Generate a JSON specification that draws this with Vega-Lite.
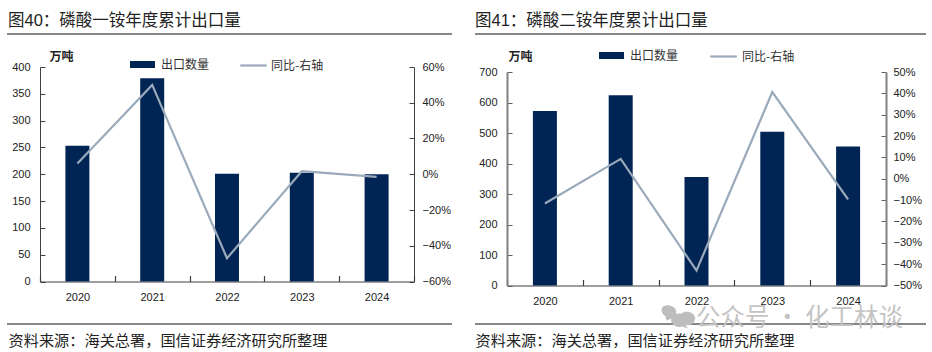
{
"$schema":"https://vega.github.io/schema/vega-lite/v6.json",
"background":"white",
"autosize":"pad",
"padding":{"left":6,"top":12,"right":0,"bottom":0},
"spacing":21,
"config":{"view":{"stroke":null},"font":"Liberation Sans, Noto Sans CJK SC","axis":{"grid":false,"ticks":true,"labelFont":"Liberation Sans, Noto Sans CJK SC","labelFontSize":11,"labelColor":"#222222","titleFont":"Noto Sans CJK SC"},"legend":{"labelFont":"Noto Sans CJK SC","labelFontSize":12,"labelColor":"#333333"}},
"hconcat":[
{"title":{"text":"图40：磷酸一铵年度累计出口量","anchor":"start","frame":"group","dx":-32,"offset":4,"font":"Liberation Sans, Noto Sans CJK SC","fontSize":16.5,"fontWeight":"normal","color":"#222222"},
"width":374,"height":214.5,
"data":{"values":[{"year":"2020","qty":253,"yoy":0.06},{"year":"2021","qty":379,"yoy":0.50},{"year":"2022","qty":201,"yoy":-0.47},{"year":"2023","qty":203,"yoy":0.017},{"year":"2024","qty":200,"yoy":-0.015}]},
"layer":[
{"mark":{"type":"bar","color":"#002554","size":24},
"encoding":{"x":{"field":"year","type":"nominal","sort":null,"scale":{"paddingInner":0,"paddingOuter":0},
"axis":{"labelAngle":0,"ticks":true,"tickBand":"extent","tickSize":-6,"tickWidth":1.2,"labelPadding":15.5,"domainColor":"#404040","tickColor":"#404040","title":"资料来源：海关总署，国信证券经济研究所整理","titleFont":"Noto Sans CJK SC","titleFontSize":15.2,"titleFontWeight":"normal","titleColor":"#222222","titleAnchor":"start","titleAlign":"left","titleBaseline":"alphabetic","titleX":-32,"titleY":64}},
"y":{"field":"qty","type":"quantitative","scale":{"domain":[0,400],"nice":false},
"axis":{"values":[0,50,100,150,200,250,300,350,400],"tickSize":-5,"labelPadding":15,"domainColor":"#404040","tickColor":"#404040","title":"万吨","titleAngle":0,"titleFontSize":12,"titleFontWeight":"bold","titleColor":"#222222","titleAlign":"center","titleBaseline":"middle","titleX":21,"titleY":-11}},
"fill":{"datum":"出口数量","scale":{"range":["#002554"]},"legend":{"title":null,"orient":"none","legendX":89,"legendY":-16,"symbolType":"M-1,-0.28H1V0.28H-1Z","symbolSize":625,"labelOffset":5}}}},
{"mark":{"type":"line","strokeWidth":2.2,"interpolate":"linear"},
"encoding":{"x":{"field":"year","type":"nominal","sort":null},
"y":{"field":"yoy","type":"quantitative","scale":{"domain":[-0.6,0.6],"nice":false},
"axis":{"orient":"right","format":".0%","values":[-0.6,-0.4,-0.2,0,0.2,0.4,0.6],"tickSize":-5,"labelPadding":13,"domainColor":"#404040","tickColor":"#404040","title":null}},
"stroke":{"datum":"同比-右轴","scale":{"range":["#9AAABB"]},"legend":{"title":null,"orient":"none","legendX":199,"legendY":-16,"symbolType":"stroke","symbolSize":700,"symbolStrokeWidth":2.2,"labelOffset":3}}}},
{"data":{"values":[{"part":"top"}]},"mark":{"type":"rule","color":"#111111","strokeWidth":1.2},"encoding":{"x":{"value":-33},"x2":{"value":412},"y":{"value":-33}}},
{"data":{"values":[{"part":"bottom"}]},"mark":{"type":"rule","color":"#111111","strokeWidth":1.2},"encoding":{"x":{"value":-33},"x2":{"value":412},"y":{"value":257}}}
],
"resolve":{"scale":{"y":"independent","fill":"independent","stroke":"independent"},"axis":{"y":"independent"}}},
{"title":{"text":"图41：磷酸二铵年度累计出口量","anchor":"start","frame":"group","dx":-32,"offset":4,"font":"Liberation Sans, Noto Sans CJK SC","fontSize":16.5,"fontWeight":"normal","color":"#222222"},
"width":379,"height":218.5,
"data":{"values":[{"year":"2020","qty":572,"yoy":-0.116},{"year":"2021","qty":624,"yoy":0.093},{"year":"2022","qty":356,"yoy":-0.43},{"year":"2023","qty":504,"yoy":0.406},{"year":"2024","qty":456,"yoy":-0.097}]},
"layer":[
{"mark":{"type":"bar","color":"#002554","size":24},
"encoding":{"x":{"field":"year","type":"nominal","sort":null,"scale":{"paddingInner":0,"paddingOuter":0},
"axis":{"labelAngle":0,"ticks":true,"tickBand":"extent","tickSize":-6,"tickWidth":1.2,"labelPadding":16,"domainColor":"#404040","tickColor":"#404040","title":"资料来源：海关总署，国信证券经济研究所整理","titleFont":"Noto Sans CJK SC","titleFontSize":15.2,"titleFontWeight":"normal","titleColor":"#222222","titleAnchor":"start","titleAlign":"left","titleBaseline":"alphabetic","titleX":-32,"titleY":60}},
"y":{"field":"qty","type":"quantitative","scale":{"domain":[0,700],"nice":false,"range":[218.5,5]},
"axis":{"values":[0,100,200,300,400,500,600,700],"tickSize":-5,"labelPadding":15,"domainColor":"#808080","domainWidth":2,"tickColor":"#606060","title":"万吨","titleAngle":0,"titleFontSize":12,"titleFontWeight":"bold","titleColor":"#222222","titleAlign":"center","titleBaseline":"middle","titleX":13,"titleY":-11}},
"fill":{"datum":"出口数量","scale":{"range":["#002554"]},"legend":{"title":null,"orient":"none","legendX":91,"legendY":-25,"symbolType":"M-1,-0.28H1V0.28H-1Z","symbolSize":625,"labelOffset":5}}}},
{"mark":{"type":"line","strokeWidth":2.2},
"encoding":{"x":{"field":"year","type":"nominal","sort":null},
"y":{"field":"yoy","type":"quantitative","scale":{"domain":[-0.5,0.5],"nice":false,"range":[218.5,5]},
"axis":{"orient":"right","format":".0%","values":[-0.5,-0.4,-0.3,-0.2,-0.1,0,0.1,0.2,0.3,0.4,0.5],"tickSize":-5,"labelPadding":12,"domainColor":"#808080","domainWidth":2,"tickColor":"#606060","title":null}},
"stroke":{"datum":"同比-右轴","scale":{"range":["#9AAABB"]},"legend":{"title":null,"orient":"none","legendX":202,"legendY":-25,"symbolType":"stroke","symbolSize":700,"symbolStrokeWidth":2.2,"labelOffset":4}}}},
{"data":{"values":[{"part":"top"}]},"mark":{"type":"rule","color":"#111111","strokeWidth":1.2},"encoding":{"x":{"value":-32},"x2":{"value":419},"y":{"value":-33}}},
{"data":{"values":[{"part":"bottom"}]},"mark":{"type":"rule","color":"#111111","strokeWidth":1.2},"encoding":{"x":{"value":-32},"x2":{"value":419},"y":{"value":257}}},
{"data":{"values":[{"text":"公众号 · 化工林谈"}]},"mark":{"type":"text","align":"left","baseline":"middle","font":"Noto Sans CJK SC","fontSize":24.5,"color":"#C4C4C4"},"encoding":{"text":{"field":"text"},"x":{"value":189},"y":{"value":252}}},
{"data":{"values":[{"part":"icon"}]},"mark":{"type":"point","filled":true,"color":"#BDBDBD","opacity":1,"size":730,"shape":"M-1,-0.6A0.62,0.52 0 1 1 -0.2,0.2L-0.7,0.4L-0.8,0.05A0.6,0.5 0 0 1 -1,-0.6ZM0.4,-0.1A0.6,0.5 0 1 1 0.7,0.75L0.9,1L0.45,0.85A0.6,0.5 0 1 1 0.4,-0.1Z"},"encoding":{"x":{"value":169},"y":{"value":248}}}
],
"resolve":{"scale":{"y":"independent","fill":"independent","stroke":"independent"},"axis":{"y":"independent"}}}
]
}
